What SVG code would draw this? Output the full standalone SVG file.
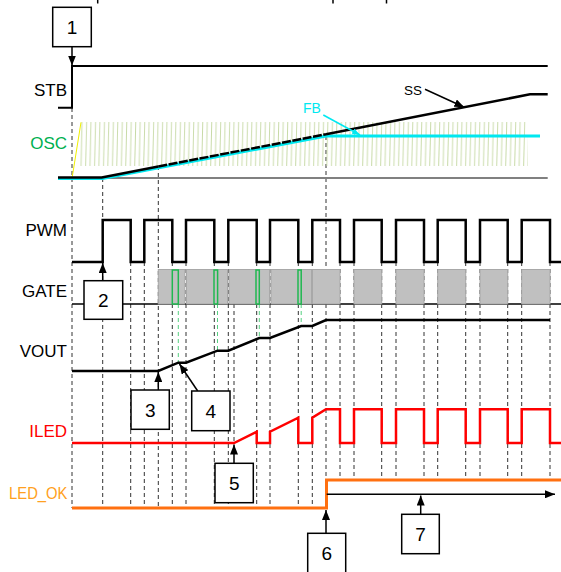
<svg xmlns="http://www.w3.org/2000/svg" width="561" height="572" viewBox="0 0 561 572">
<style>
.lbl{font-family:"Liberation Sans",Arial,sans-serif;font-size:17px;text-anchor:end}
.num{font-family:"Liberation Sans",Arial,sans-serif;font-size:19px;text-anchor:middle;fill:#000}
.box{fill:#fff;stroke:#000;stroke-width:1.5}
.dash{stroke:#333;stroke-width:1;stroke-dasharray:4 3;fill:none}
.gdash{stroke:#55d080;stroke-width:1;stroke-dasharray:4 3;fill:none}
.sig{fill:none;stroke-linejoin:miter}
.gate{fill:#c0c0c0;stroke:#a8a8a8;stroke-width:1}
.gp{fill:none;stroke:#20b850;stroke-width:1.5}
.arr{stroke:#000;stroke-width:1.5;fill:none;marker-end:url(#ah)}
</style>
<defs>
<marker id="ah" markerWidth="10" markerHeight="8" refX="10" refY="4" orient="auto" markerUnits="userSpaceOnUse">
<path d="M0,0 L10,4 L0,8 Z" fill="#000"/>
</marker>
<marker id="ahc" markerWidth="8" markerHeight="6" refX="8" refY="3" orient="auto" markerUnits="userSpaceOnUse">
<path d="M0,0 L8,3 L0,6 Z" fill="#00e8f0"/>
</marker>
<pattern id="saw" patternUnits="userSpaceOnUse" x="80.5" y="122" width="4.47" height="44">
<line x1="1.6" y1="0" x2="0.6" y2="44" stroke="#c6d9a4" stroke-width="0.9"/>
</pattern>
</defs>

<g id="top-marks" stroke="#000" stroke-width="1.5">
<line x1="97.7" y1="0" x2="97.7" y2="3.5"/>
<line x1="333" y1="0" x2="333" y2="3.5"/>
<line x1="386.5" y1="0" x2="386.5" y2="3.5"/>
</g>

<g id="guides">
<line class="dash" x1="72" y1="108" x2="72" y2="508"/>
<line class="dash" x1="102.7" y1="178" x2="102.7" y2="508"/>
<line class="dash" x1="158.3" y1="166" x2="158.3" y2="508"/>
<line class="dash" x1="326" y1="136" x2="326" y2="480"/>
<line class="dash" x1="234" y1="304" x2="234" y2="443" stroke="#777"/>
<path class="dash" d="M130.7,262V508M144.3,262V508M172.3,262V508M186,262V508M214.3,262V508M228.3,262V508M256.7,262V508M270,262V508M298.3,262V508M312.3,262V508"/>
<path class="dash" d="M340,262V480M354,262V480M381.7,262V480M396,262V480M424,262V480M437.7,262V480M465.7,262V480M480,262V480M507.7,262V480M521.7,262V480M550,262V480"/>
<path class="gdash" d="M178.3,304V362.7M217.5,304V350.7M259.3,304V338M301.2,304V326"/>
</g>

<g id="labels">
<text class="lbl" x="67" y="95.5" fill="#000">STB</text>
<text class="lbl" x="67" y="149" fill="#00b050">OSC</text>
<text class="lbl" x="67" y="236" fill="#000">PWM</text>
<text class="lbl" x="67" y="296.5" fill="#000">GATE</text>
<text class="lbl" x="67" y="356.5" fill="#000">VOUT</text>
<text class="lbl" x="67" y="436.5" fill="#ff0000">ILED</text>
<text class="lbl" x="67.5" y="499" fill="#ffa020" textLength="58.5" lengthAdjust="spacingAndGlyphs">LED_OK</text>
</g>

<g id="STB">
<path class="sig" d="M58,107.7H72V66H547.7" stroke="#000" stroke-width="2"/>
</g>

<g id="OSC">
<rect x="79" y="122" width="449" height="44" fill="url(#saw)"/>
<line x1="72.3" y1="176.7" x2="81" y2="122.3" stroke="#f0f000" stroke-width="1"/>
<line x1="58" y1="178" x2="547.7" y2="178" stroke="#808080" stroke-width="2"/>
<path class="sig" d="M58,178.5H102.5L326,136H540" stroke="#00e8f0" stroke-width="3"/>
<path class="sig" d="M58,177.5H101.7L158.3,166.5" stroke="#000" stroke-width="2.5"/>
<path class="sig" d="M158.3,166.5L326,134.2" stroke="#000" stroke-width="2.5" stroke-dasharray="9 1.5"/>
<path class="sig" d="M326,134.2L530,94.3H547.7" stroke="#000" stroke-width="2.5"/>
<text x="303" y="113" font-family="Liberation Sans,Arial,sans-serif" font-size="14" fill="#00e8f0">FB</text>
<line x1="323.3" y1="115" x2="360" y2="135" stroke="#00e8f0" stroke-width="1.5" marker-end="url(#ahc)"/>
<text x="404" y="95" font-family="Liberation Sans,Arial,sans-serif" font-size="13.5" fill="#000">SS</text>
<line x1="425" y1="89.3" x2="464.3" y2="107.3" stroke="#000" stroke-width="1.5" marker-end="url(#ah)"/>
</g>

<g id="PWM">
<path class="sig" stroke="#000" stroke-width="2.5" d="M72,262H102.7V220H130.7V262H144.3V220H172.3V262H186V220H214.3V262H228.3V220H256.7V262H270V220H298.3V262H312.3V220H340V262H354V220H381.7V262H396V220H424V262H437.7V220H465.7V262H480V220H507.7V262H521.7V220H550V262H561"/>
</g>

<g id="GATE">
<line x1="72" y1="304" x2="561" y2="304" stroke="#000" stroke-width="1.5"/>
<rect class="gate" x="158.3" y="269.5" width="26.5" height="34.5"/>
<rect class="gate" x="186.5" y="269.5" width="41" height="34.5"/>
<rect class="gate" x="229" y="269.5" width="40.5" height="34.5"/>
<rect class="gate" x="271" y="269.5" width="40.5" height="34.5"/>
<rect class="gate" x="312.5" y="269.5" width="27.5" height="34.5"/>
<rect class="gate" x="354" y="269.5" width="27.7" height="34.5"/>
<rect class="gate" x="396" y="269.5" width="28" height="34.5"/>
<rect class="gate" x="437.7" y="269.5" width="28" height="34.5"/>
<rect class="gate" x="480" y="269.5" width="27.7" height="34.5"/>
<rect class="gate" x="521.7" y="269.5" width="28.3" height="34.5"/>
<rect class="gp" x="172.3" y="270" width="6" height="34"/>
<rect class="gp" x="214" y="270" width="3.6" height="34"/>
<rect class="gp" x="256" y="270" width="3.3" height="34"/>
<rect class="gp" x="298" y="270" width="3.2" height="34"/>
</g>

<g id="VOUT">
<polyline class="sig" stroke="#000" stroke-width="2.5" points="72,371 158.3,371 178.3,362.7 186,362.7 217.5,350.7 228.3,350.7 259.3,338 270,338 301.2,326 312.3,326 326,320 550,320"/>
</g>

<g id="ILED">
<polyline class="sig" stroke="#ff0000" stroke-width="2.5" points="72,443 234,443 256.7,431.7 256.7,443 270,443 270,431.7 298.3,417.7 298.3,443 312.3,443 312.3,417.7 326,409.3 340,409.3 340,443 354,443 354,409.3 381.7,409.3 381.7,443 396,443 396,409.3 424,409.3 424,443 437.7,443 437.7,409.3 465.7,409.3 465.7,443 480,443 480,409.3 507.7,409.3 507.7,443 521.7,443 521.7,409.3 550,409.3 550,443 561,443"/>
</g>

<g id="LED_OK">
<path class="sig" stroke="#ff7010" stroke-width="3" d="M72,508H326.5V480H561"/>
</g>

<g id="connectors">
<line class="arr" x1="72" y1="46.7" x2="72" y2="65.5"/>
<line class="arr" x1="102.7" y1="280.7" x2="102.7" y2="263"/>
<line class="arr" x1="158.3" y1="390" x2="158.3" y2="372"/>
<line class="arr" x1="197.7" y1="391" x2="179.5" y2="364"/>
<line class="arr" x1="234" y1="463.3" x2="234" y2="444.5"/>
<line class="arr" x1="326" y1="533.3" x2="326" y2="510"/>
<line class="arr" x1="326.7" y1="494.3" x2="555" y2="494.3"/>
<line class="arr" x1="420.7" y1="514.3" x2="420.7" y2="495.5"/>
</g>

<g id="n1"><rect class="box" x="52.7" y="7.3" width="38.6" height="39.4"/><text class="num" x="72" y="34">1</text></g>
<g id="n2"><rect class="box" x="84" y="280.7" width="38.7" height="38.6"/><text class="num" x="103.3" y="307">2</text></g>
<g id="n3"><rect class="box" x="131" y="390" width="38.3" height="39.3"/><text class="num" x="150.2" y="416.5">3</text></g>
<g id="n4"><rect class="box" x="191.7" y="391" width="38.3" height="39.7"/><text class="num" x="210.8" y="417.5">4</text></g>
<g id="n5"><rect class="box" x="215" y="463.3" width="38.3" height="39.4"/><text class="num" x="234.2" y="490">5</text></g>
<g id="n6"><rect class="box" x="307.7" y="533.3" width="38" height="40"/><text class="num" x="326.7" y="560">6</text></g>
<g id="n7"><rect class="box" x="401.7" y="514.3" width="37.6" height="39.4"/><text class="num" x="420.5" y="541">7</text></g>
</svg>
